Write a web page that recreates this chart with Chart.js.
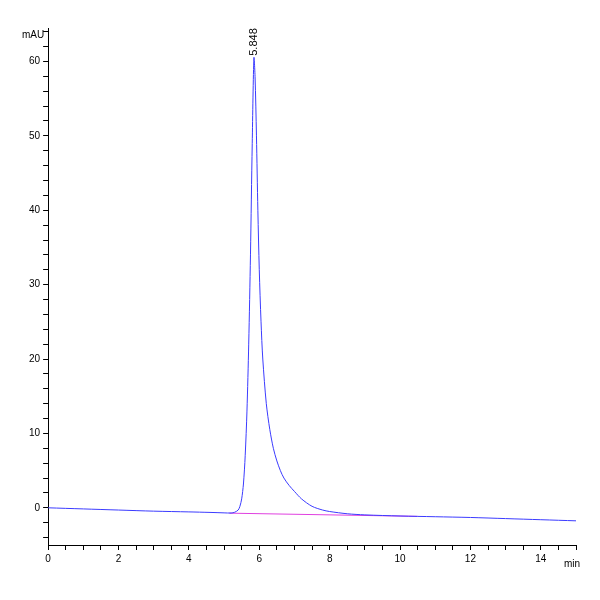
<!DOCTYPE html>
<html>
<head>
<script src="https://cdn.jsdelivr.net/npm/chart.js@4"></script>
<style>
  body { margin: 0; background: #fff; }
</style>
</head>
<body>
<canvas id="chart" width="600" height="600"></canvas>
<script>
// signal trace (min, mAU)
const times = [0, 1, 2, 3, 4, 4.6, 5.0, 5.2, 5.3, 5.4, 5.45, 5.5, 5.55, 5.6, 5.65, 5.7, 5.75, 5.8, 5.848, 5.88, 5.92, 5.96, 6.0, 6.05, 6.1, 6.2, 6.3, 6.4, 6.5, 6.6, 6.7, 6.85, 7.0, 7.2, 7.5, 7.8, 8.0, 8.5, 9, 10, 11, 12, 13, 14, 15];
const signal = [0, -0.15, -0.3, -0.45, -0.55, -0.62, -0.68, -0.7, -0.6, -0.3, 0.2, 1.2, 3.2, 7, 13, 22, 34, 49, 60.5, 58, 50, 40, 32, 25, 20, 14, 10.5, 8, 6.3, 5, 4, 3, 2.2, 1.2, 0.2, -0.3, -0.5, -0.8, -0.95, -1.1, -1.2, -1.3, -1.45, -1.6, -1.75];
// integration baseline
const baseTimes = [5.15, 10.5];
const baseValues = [-0.72, -1.15];
const peakTime = 5.848;
const peakValue = 60.5;
const peakLabel = '5.848';
const xTicks = [0, 2, 4, 6, 8, 10, 12, 14];
const yTicks = [0, 10, 20, 30, 40, 50, 60];

const FONT = 'Liberation Sans, Arial, sans-serif';

const annotations = {
  id: 'annotations',
  afterDraw(chart) {
    const ctx = chart.ctx;
    const x = chart.scales.x, y = chart.scales.y;
    ctx.save();
    ctx.fillStyle = '#000';
    ctx.font = '10px ' + FONT;
    ctx.textAlign = 'right';
    ctx.textBaseline = 'top';
    ctx.fillText('mAU', x.left - 4, y.top + 2);
    ctx.textAlign = 'left';
    ctx.fillText('min', x.right - 12, y.bottom + 14);
    // peak label, rotated
    ctx.translate(x.getPixelForValue(peakTime), y.getPixelForValue(peakValue) - 2);
    ctx.rotate(-Math.PI / 2);
    ctx.textAlign = 'left';
    ctx.textBaseline = 'middle';
    ctx.font = '11px ' + FONT;
    ctx.fillText(peakLabel, 0, 0);
    ctx.restore();
  }
};

new Chart(document.getElementById('chart'), {
  type: 'scatter',
  data: {
    datasets: [
      {
        data: times.map((t, i) => ({ x: t, y: signal[i] })),
        showLine: true,
        borderColor: '#3b3bff',
        borderWidth: 1,
        pointRadius: 0,
        tension: 0.3
      },
      {
        data: baseTimes.map((t, i) => ({ x: t, y: baseValues[i] })),
        showLine: true,
        borderColor: '#e040e0',
        borderWidth: 1,
        pointRadius: 0
      }
    ]
  },
  options: {
    responsive: false,
    animation: false,
    layout: { padding: { top: 28, right: 24, bottom: 32, left: 26 } },
    plugins: { legend: { display: false }, tooltip: { enabled: false } },
    scales: {
      x: {
        min: 0, max: 15,
        afterBuildTicks: s => { s.ticks = []; for (let v = 0; v <= 15; v += 0.5) s.ticks.push({ value: v }); },
        ticks: {
          autoSkip: false, maxRotation: 0, color: '#000',
          font: { size: 10, family: FONT },
          callback: v => xTicks.includes(v) ? String(v) : ''
        },
        grid: { drawOnChartArea: false, color: '#000', tickLength: 5 },
        border: { color: '#000' }
      },
      y: {
        min: -5, max: 64.5,
        afterBuildTicks: s => { s.ticks = []; for (let v = -4; v <= 64; v += 2) s.ticks.push({ value: v }); },
        ticks: {
          autoSkip: false, color: '#000',
          font: { size: 10, family: FONT },
          callback: v => yTicks.includes(v) ? String(v) : ''
        },
        grid: { drawOnChartArea: false, color: '#000', tickLength: 5 },
        border: { color: '#000' }
      }
    }
  },
  plugins: [annotations]
});
</script>
</body>
</html>
